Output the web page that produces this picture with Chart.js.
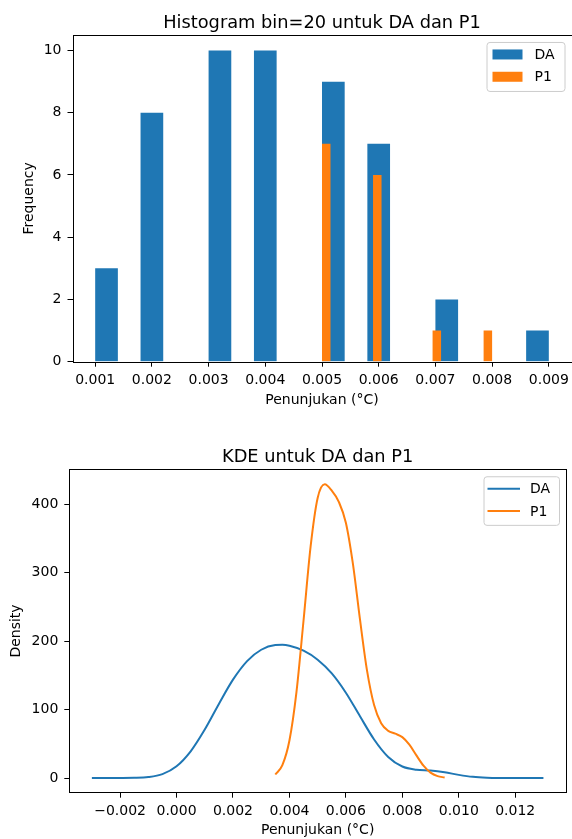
<!DOCTYPE html>
<html lang="id">
<head>
<meta charset="UTF-8">
<title>Histogram dan KDE untuk DA dan P1</title>
<script src="https://cdn.jsdelivr.net/npm/chart.js@4.4.0/dist/chart.umd.min.js"></script>
<style>
  html, body { margin: 0; padding: 0; background: #fff; overflow: hidden; }
  #wrap { position: relative; width: 572px; height: 839px; overflow: hidden; }
  #histChart { position: absolute; left: 0; top: 0; }
  #kdeChart { position: absolute; left: 0; top: 420px; }
</style>
</head>
<body>
<div id="wrap">
  <canvas id="histChart" width="600" height="420"></canvas>
  <canvas id="kdeChart" width="572" height="419"></canvas>
</div>
<script>
// --- histogram, bin=20: centre of each non-empty bin and its count
const daBinCenters = [0.0012, 0.002, 0.0032, 0.004, 0.0052, 0.006, 0.0072, 0.0088];
const daCounts = [3, 8, 10, 10, 9, 7, 2, 1];
const p1BinCenters = [0.005075, 0.005975, 0.007025, 0.007925];
const p1Counts = [7, 6, 1, 1];
const histXTicks = [0.001, 0.002, 0.003, 0.004, 0.005, 0.006, 0.007, 0.008, 0.009];
const histYTicks = [0, 2, 4, 6, 8, 10];

// --- KDE curves
const daKdeX = [-0.003, -0.0025, -0.002, -0.0015, -0.001, -0.0005, 0, 0.0005, 0.001, 0.0015,
  0.002, 0.0025, 0.003, 0.0035, 0.00375, 0.004, 0.0045, 0.005, 0.0055, 0.006, 0.0065, 0.007,
  0.0075, 0.008, 0.0085, 0.009, 0.0095, 0.01, 0.0105, 0.011, 0.0115, 0.012, 0.0125, 0.013];
const daKdeY = [0, 0, 0.03, 0.23, 1.36, 5.71, 17.2, 39.05, 70.87, 108.22,
  143.68, 170.8, 187.33, 194.14, 194.51, 193.16, 185.92, 172.78, 152.73, 124.58, 90.15, 56.31,
  30.75, 16.77, 12.15, 10.93, 8.37, 4.58, 1.71, 0.43, 0.07, 0.01, 0, 0];
const p1KdeX = [0.0035, 0.00375, 0.004, 0.00425, 0.0045, 0.00475, 0.005, 0.00525, 0.0055,
  0.00575, 0.006, 0.00625, 0.0065, 0.00675, 0.007, 0.00725, 0.0075, 0.00775, 0.008, 0.00825,
  0.0085, 0.00875, 0.009, 0.00925, 0.0095];
const p1KdeY = [5.14, 18.87, 54.79, 125.9, 230.06, 337.88, 408.95, 428.98, 419.82,
  403.42, 372.83, 312.62, 231.53, 156.86, 106.55, 79.99, 68.88, 64.76, 59.69, 48.67,
  32.97, 18.01, 7.83, 2.7, 0.73];
const kdeXTicks = [-0.002, 0, 0.002, 0.004, 0.006, 0.008, 0.01, 0.012];
const kdeYTicks = [0, 100, 200, 300, 400];

const BLUE = '#1f77b4';
const ORANGE = '#ff7f0e';

Chart.defaults.font.family = '"DejaVu Sans"';
Chart.defaults.font.size = 14;
Chart.defaults.color = '#000';

const toPoints = (xs, ys) => xs.map((x, i) => ({ x: x, y: ys[i] }));
const fixTicks = list => axis => { axis.ticks = list.map(v => ({ value: v })); };

// box round the plot area, like matplotlib spines
const frame = {
  id: 'frame',
  afterDatasetsDraw(chart) {
    const { ctx, chartArea: a } = chart;
    ctx.save();
    ctx.strokeStyle = '#000';
    ctx.lineWidth = 1;
    ctx.strokeRect(Math.round(a.left) + 0.5, Math.round(a.top) + 0.5,
      Math.round(a.right - a.left), Math.round(a.bottom - a.top));
    ctx.restore();
  }
};

// legend inside the upper right corner of the axes
const boxLegend = {
  id: 'boxLegend',
  afterDraw(chart, args, opts) {
    const { ctx, chartArea: a } = chart;
    const x = a.right - 7 - opts.width;
    const y = a.top + 7;
    ctx.save();
    ctx.beginPath();
    ctx.roundRect(x + 0.5, y + 0.5, opts.width, opts.height, 3);
    ctx.fillStyle = 'rgba(255,255,255,0.8)';
    ctx.fill();
    ctx.strokeStyle = '#cccccc';
    ctx.lineWidth = 1;
    ctx.stroke();
    ctx.font = '14px "DejaVu Sans"';
    ctx.textBaseline = 'middle';
    chart.data.datasets.forEach((ds, i) => {
      const cy = y + 12.5 + i * 22.3;
      if (opts.lines) {
        ctx.strokeStyle = ds.borderColor;
        ctx.lineWidth = 2;
        ctx.beginPath();
        ctx.moveTo(x + 4, cy);
        ctx.lineTo(x + 36.5, cy);
        ctx.stroke();
      } else {
        ctx.fillStyle = ds.backgroundColor;
        ctx.fillRect(x + 6, cy - 5, 30, 10);
      }
      ctx.fillStyle = '#000';
      ctx.fillText(ds.label, x + opts.textOffset, cy + 1);
    });
    ctx.restore();
  }
};

const tickMarks = { drawOnChartArea: false, tickLength: 5, color: '#000', offset: false };

new Chart(document.getElementById('histChart'), {
  type: 'bar',
  data: {
    datasets: [
      {
        label: 'DA',
        data: toPoints(daBinCenters, daCounts),
        backgroundColor: BLUE,
        xAxisID: 'x',
        order: 1,
        grouped: false,
        // filled DA bins are at least 2 bins apart -> half the gap is one bin
        barPercentage: 0.5,
        categoryPercentage: 1
      },
      {
        label: 'P1',
        data: toPoints(p1BinCenters, p1Counts),
        backgroundColor: ORANGE,
        xAxisID: 'x2',
        order: 0,
        grouped: false,
        // filled P1 bins are at least 6 bins apart
        barPercentage: 1 / 6,
        categoryPercentage: 1
      }
    ]
  },
  options: {
    responsive: false,
    animation: false,
    events: [],
    layout: { padding: { left: 0, right: 28.5, top: 0, bottom: 0 } },
    scales: {
      x: {
        type: 'linear',
        min: 0.0006,
        max: 0.0094,
        offset: false,
        afterFit: s => { s.height = 58.3; },
        afterBuildTicks: fixTicks(histXTicks),
        grid: tickMarks,
        border: { display: false },
        ticks: { padding: 5, maxRotation: 0, autoSkip: false, callback: v => v.toFixed(3) },
        title: { display: true, text: 'Penunjukan (°C)', padding: { top: 0, bottom: 10.8 } }
      },
      x2: {
        type: 'linear',
        display: false,
        min: 0.0006,
        max: 0.0094,
        offset: false,
        afterBuildTicks: fixTicks(histXTicks)
      },
      y: {
        min: 0,
        max: 10.5,
        afterFit: s => { s.width = 72.5; },
        afterBuildTicks: fixTicks(histYTicks),
        grid: tickMarks,
        border: { display: false },
        ticks: { padding: 6, callback: v => String(v) },
        title: { display: true, text: 'Frequency', padding: { top: 20.5, bottom: 0 } }
      }
    },
    plugins: {
      legend: { display: false },
      tooltip: { enabled: false },
      title: {
        display: true,
        fullSize: false,
        text: 'Histogram bin=20 untuk DA dan P1',
        font: { size: 17.8, weight: 'normal' },
        color: '#000',
        padding: { top: 12.3, bottom: 1.3 }
      },
      boxLegend: { lines: false, width: 78, height: 49, textOffset: 48 }
    }
  },
  plugins: [frame, boxLegend]
});

new Chart(document.getElementById('kdeChart'), {
  type: 'line',
  data: {
    datasets: [
      {
        label: 'DA',
        data: toPoints(daKdeX, daKdeY),
        borderColor: BLUE,
        borderWidth: 2,
        pointRadius: 0,
        cubicInterpolationMode: 'monotone',
        order: 1
      },
      {
        label: 'P1',
        data: toPoints(p1KdeX, p1KdeY),
        borderColor: ORANGE,
        borderWidth: 2,
        pointRadius: 0,
        cubicInterpolationMode: 'monotone',
        order: 0
      }
    ]
  },
  options: {
    responsive: false,
    animation: false,
    events: [],
    layout: { padding: { left: 0, right: 6, top: 0, bottom: 0 } },
    scales: {
      x: {
        type: 'linear',
        min: -0.0038,
        max: 0.0138,
        afterFit: s => { s.height = 46.3; },
        afterBuildTicks: fixTicks(kdeXTicks),
        grid: tickMarks,
        border: { display: false },
        ticks: {
          padding: 5, maxRotation: 0, autoSkip: false,
          callback: v => (v < 0 ? '\u2212' : '') + Math.abs(v).toFixed(3)
        },
        title: { display: true, text: 'Penunjukan (°C)', padding: { top: 0, bottom: 0 } }
      },
      y: {
        min: -21.47,
        max: 450.96,
        afterFit: s => { s.width = 69.3; },
        afterBuildTicks: fixTicks(kdeYTicks),
        grid: tickMarks,
        border: { display: false },
        ticks: { padding: 6, callback: v => String(v) },
        title: { display: true, text: 'Density', padding: { top: 7.7, bottom: 0 } }
      }
    },
    plugins: {
      legend: { display: false },
      tooltip: { enabled: false },
      title: {
        display: true,
        fullSize: false,
        text: 'KDE untuk DA dan P1',
        font: { size: 17.8, weight: 'normal' },
        color: '#000',
        padding: { top: 26.6, bottom: 1.3 }
      },
      boxLegend: { lines: true, width: 75.5, height: 48.6, textOffset: 46.5 }
    }
  },
  plugins: [frame, boxLegend]
});
</script>
</body>
</html>
